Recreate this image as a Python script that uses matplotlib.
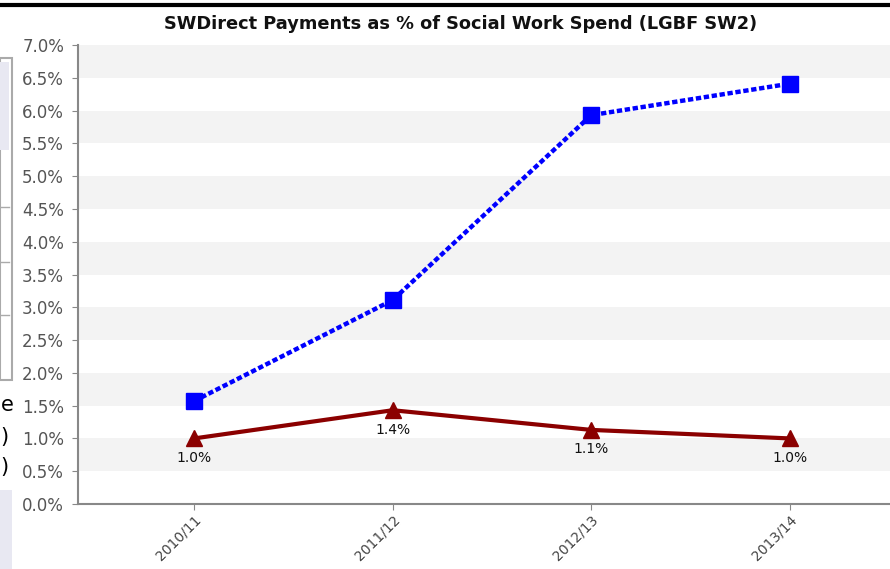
import matplotlib.pyplot as plt
from matplotlib.patches import Rectangle
from matplotlib.lines import Line2D

years = ['2010/11', '2011/12', '2012/13', '2013/14']
sw_direct = [1.57, 3.11, 5.93, 6.41]
sw2_value = [1.0, 1.43, 1.13, 1.0]
sw2_labels = ['1.0%', '1.4%', '1.1%', '1.0%']
y_ticks = [0.0, 0.5, 1.0, 1.5, 2.0, 2.5, 3.0, 3.5, 4.0, 4.5, 5.0, 5.5, 6.0, 6.5, 7.0]

fig = plt.figure(figsize=(8.9, 5.69), dpi=100)
ax = fig.add_axes([78 / 890, 1 - 504 / 569, 1 - 78 / 890, 459 / 569])

# alternating grey bands
for lo in y_ticks[1::2]:
    ax.axhspan(lo, lo + 0.5, color='#f3f3f3', zorder=0, lw=0)

x = range(len(years))
ax.plot(x, sw_direct, color='#0000ff', lw=3.2, ls=(0, (1.2, 0.6)),
        marker='s', ms=11.5, zorder=3)
ax.plot(x, sw2_value, color='#8b0000', lw=3, marker='^', ms=12, zorder=3)
for i, (v, lab) in enumerate(zip(sw2_value, sw2_labels)):
    ax.annotate(lab, (i, v), xytext=(0, -14), textcoords='offset points',
                ha='center', va='center', fontsize=10, color='#111111')

ax.set_xlim(-0.585, 3.505)
ax.set_ylim(0, 7)
ax.set_yticks(y_ticks)
ax.set_yticklabels([f'{t:.1f}%' for t in y_ticks], fontsize=12, color='#555555')
ax.set_xticks(list(x))
ax.set_xticklabels(years, rotation=45, ha='right', rotation_mode='anchor',
                   fontsize=10, color='#444444')
ax.tick_params(axis='y', length=4, color='#888888', pad=6)
ax.tick_params(axis='x', length=4, color='#888888', pad=2)
for s in ['top', 'right']:
    ax.spines[s].set_visible(False)
for s in ['left', 'bottom']:
    ax.spines[s].set_color('#888888')
    ax.spines[s].set_linewidth(1.5)

fig.text(461 / 890, 1 - 24 / 569, 'SWDirect Payments as % of Social Work Spend (LGBF SW2)',
         ha='center', va='center', fontsize=12.8, fontweight='bold', color='#111111')

# page fragments around the screenshot
fig.add_artist(Line2D([0, 1], [1 - 5 / 569, 1 - 5 / 569], color='black', lw=3))
fig.add_artist(Rectangle((0, 1 - 380 / 569), 12 / 890, 322 / 569, facecolor='white',
                         edgecolor='#aaaaaa', lw=1.5))
fig.add_artist(Rectangle((0, 1 - 150 / 569), 9 / 890, 88 / 569, facecolor='#e8e8f2',
                         edgecolor='none'))
for yy in [207, 262, 315]:
    fig.add_artist(Line2D([0, 9 / 890], [1 - yy / 569] * 2, color='#aaaaaa', lw=1))
fig.add_artist(Rectangle((0, 0), 12 / 890, 79 / 569, facecolor='#e8e8f2', edgecolor='none'))
for yy, ch in [(405, 'e'), (437, ')'), (467, ')')]:
    fig.text(0.5 / 890, 1 - yy / 569, ch, fontsize=15, ha='left', va='center')

fig.savefig('out.png', dpi=100)
